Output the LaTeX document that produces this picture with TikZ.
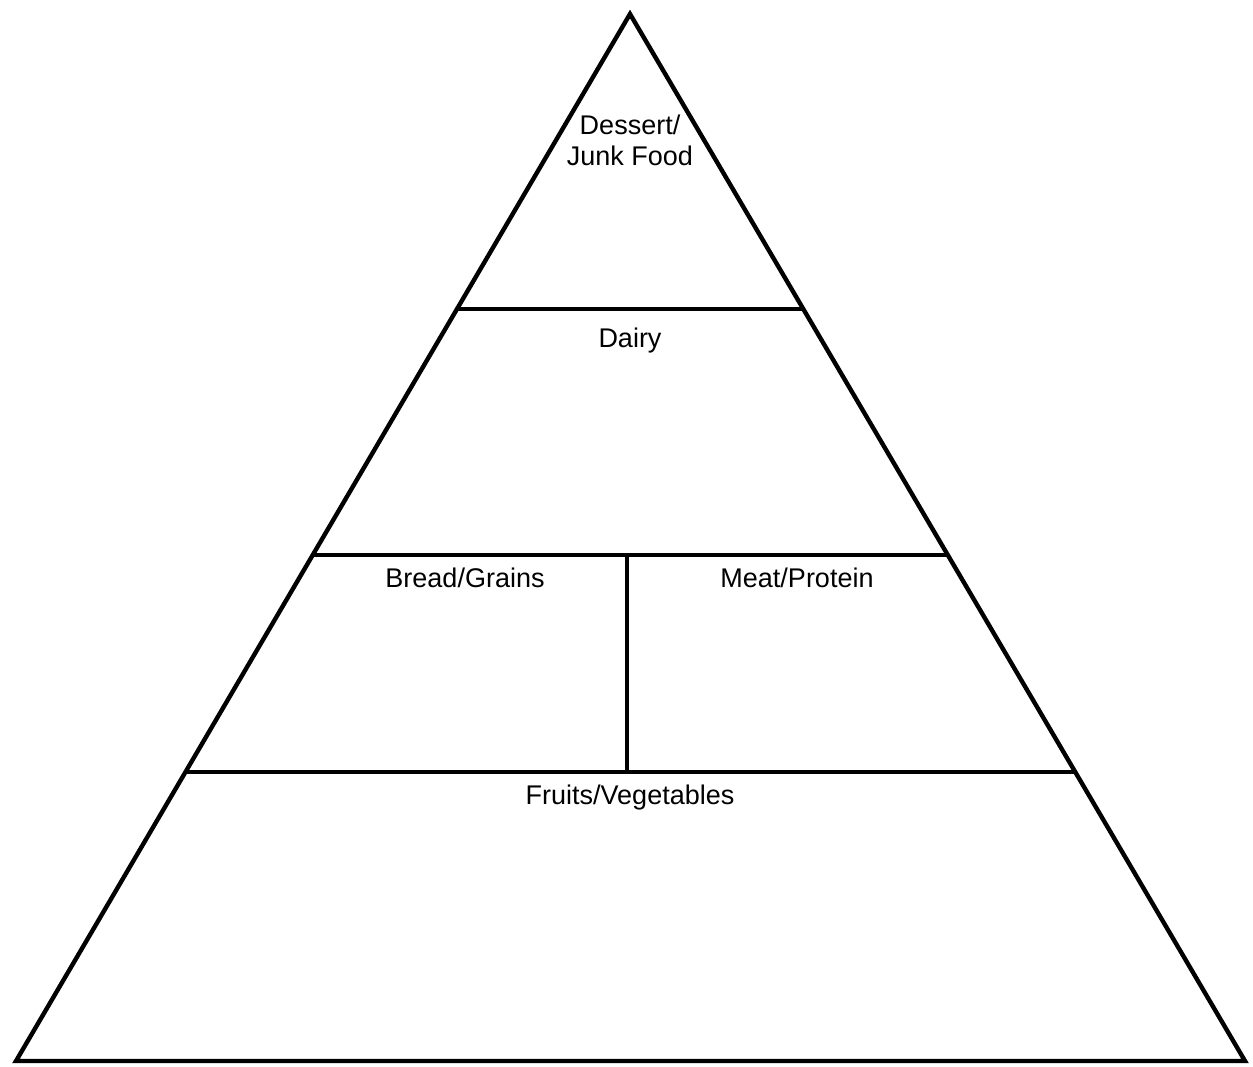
\documentclass[tikz,border=0pt]{standalone}
\usepackage{fontspec}
\setmainfont{Liberation Sans}
\usetikzlibrary{calc}
\begin{document}
\begin{tikzpicture}[x=1pt,y=-1pt,
  edge/.style={line width=4.4pt,black},
  lbl/.style={font=\fontsize{27}{31}\selectfont,align=center,inner sep=0pt}]
\useasboundingbox (0,0) rectangle (1253,1067);
\fill[white] (0,0) rectangle (1253,1067);
\coordinate (T) at (630,14);
\coordinate (L) at (16,1061);
\coordinate (R) at (1245,1061);
\draw[edge,line join=miter] (T) -- (L) -- (R) -- cycle;
% tiers
\coordinate (l1) at ($(T)!295/1047!(L)$);
\coordinate (r1) at ($(T)!295/1047!(R)$);
\coordinate (l2) at ($(T)!541/1047!(L)$);
\coordinate (r2) at ($(T)!541/1047!(R)$);
\coordinate (l3) at ($(T)!758/1047!(L)$);
\coordinate (r3) at ($(T)!758/1047!(R)$);
\draw[edge] (l1) -- (r1);
\draw[edge] (l2) -- (r2);
\draw[edge] (l3) -- (r3);
\coordinate (vt) at (627,555);
\coordinate (vb) at (627,772);
\draw[edge] (vt) -- (vb);
% labels
\node[lbl] (dessert) at (630,140) {Dessert/\\Junk Food};
\node[lbl] (dairy) at (630,341) {Dairy};
\node[lbl] (bread) at (465,578) {Bread/Grains};
\node[lbl] (meat) at (797,578) {Meat/Protein};
\node[lbl] (fruits) at (630,798) {Fruits/Vegetables};
\end{tikzpicture}
\end{document}
